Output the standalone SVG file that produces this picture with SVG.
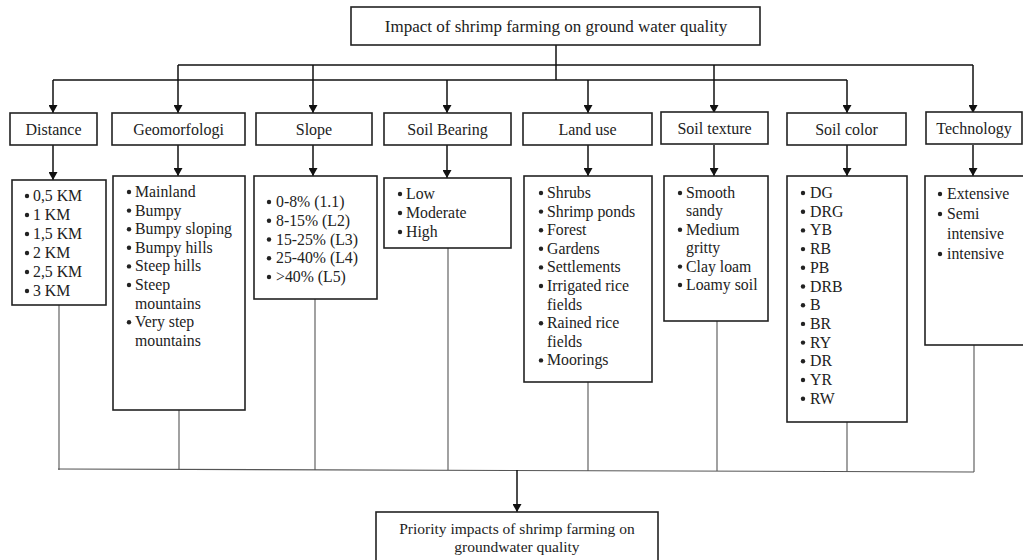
<svg xmlns="http://www.w3.org/2000/svg" width="1023" height="560" viewBox="0 0 1023 560">
<defs>
<marker id="ah" viewBox="0 0 8 9" refX="8" refY="4.5" markerWidth="8" markerHeight="9" orient="auto" markerUnits="userSpaceOnUse">
<path d="M0,0 L8,4.5 L0,9 Z" fill="#111"/>
</marker>
<style>
.box{fill:#fff;stroke:#222;stroke-width:1.6}
.t{font-family:"Liberation Serif","Times New Roman",serif;font-size:15.8px;fill:#222}
.l1{font-size:16px}
.tt{font-size:17px}
.pr{font-size:15.5px}
.h{text-anchor:middle}
.c{fill:none;stroke:#111;stroke-width:1.5}
.b{fill:none;stroke:#555;stroke-width:1.1}
.dot{fill:#222}
</style>
</defs>
<rect width="1023" height="560" fill="#fff"/>

<g id="connectors">
<path class="c" d="M556,45 V80"/>
<path class="c" d="M178,65 H973"/>
<path class="c" d="M53,80 H847"/>
<path class="c" d="M53,80 V113" marker-end="url(#ah)"/>
<path class="c" d="M178,65 V113" marker-end="url(#ah)"/>
<path class="c" d="M313,65 V113" marker-end="url(#ah)"/>
<path class="c" d="M447,80 V113" marker-end="url(#ah)"/>
<path class="c" d="M588,80 V113" marker-end="url(#ah)"/>
<path class="c" d="M714,65 V113" marker-end="url(#ah)"/>
<path class="c" d="M847,80 V113" marker-end="url(#ah)"/>
<path class="c" d="M973,65 V113" marker-end="url(#ah)"/>
<path class="c" d="M53,145 V180" marker-end="url(#ah)"/>
<path class="c" d="M178,145 V176" marker-end="url(#ah)"/>
<path class="c" d="M313,145 V176" marker-end="url(#ah)"/>
<path class="c" d="M447,145 V178" marker-end="url(#ah)"/>
<path class="c" d="M588,145 V176" marker-end="url(#ah)"/>
<path class="c" d="M714,145 V176" marker-end="url(#ah)"/>
<path class="c" d="M847,145 V176" marker-end="url(#ah)"/>
<path class="c" d="M973,145 V176" marker-end="url(#ah)"/>
<path class="b" d="M59,305 V470"/>
<path class="b" d="M179,410 V470"/>
<path class="b" d="M315,299 V470"/>
<path class="b" d="M448,248 V470"/>
<path class="b" d="M588,382 V471"/>
<path class="b" d="M717,321 V471"/>
<path class="b" d="M847,422 V472"/>
<path class="b" d="M974,345 V472"/>
<path class="b" d="M58,469 L974,472"/>
<path class="c" d="M517,470 V512" marker-end="url(#ah)"/>
</g>

<g id="top">
<rect class="box" x="351" y="7" width="409" height="38"/>
<text class="t tt h" x="556" y="32">Impact of shrimp farming on ground water quality</text>
</g>

<g id="distance">
<rect class="box" x="10" y="113" width="87" height="32"/>
<text class="t l1 h" x="53.5" y="134.5">Distance</text>
</g>
<g id="geomorfologi">
<rect class="box" x="112" y="113" width="133" height="32"/>
<text class="t l1 h" x="178.5" y="134.5">Geomorfologi</text>
</g>
<g id="slope">
<rect class="box" x="256" y="113" width="116" height="32"/>
<text class="t l1 h" x="314" y="134.5">Slope</text>
</g>
<g id="soil-bearing">
<rect class="box" x="384" y="113" width="127" height="32"/>
<text class="t l1 h" x="447.5" y="134.5">Soil Bearing</text>
</g>
<g id="land-use">
<rect class="box" x="523" y="113" width="129" height="32"/>
<text class="t l1 h" x="587.5" y="134.5">Land use</text>
</g>
<g id="soil-texture">
<rect class="box" x="661" y="112" width="107" height="32"/>
<text class="t l1 h" x="714.5" y="133.5">Soil texture</text>
</g>
<g id="soil-color">
<rect class="box" x="787" y="113" width="119" height="32"/>
<text class="t l1 h" x="846.5" y="134.5">Soil color</text>
</g>
<g id="technology">
<rect class="box" x="926" y="112" width="96" height="32"/>
<text class="t l1 h" x="974" y="133.5">Technology</text>
</g>

<g id="distance-list">
<rect class="box" x="12" y="180" width="94" height="125"/>
<g class="t">
<text x="33" y="201">0,5 KM</text>
<text x="33" y="220">1 KM</text>
<text x="33" y="239">1,5 KM</text>
<text x="33" y="258">2 KM</text>
<text x="33" y="277">2,5 KM</text>
<text x="33" y="296">3 KM</text>
</g>
<g class="dot">
<circle cx="27" cy="196" r="2.2"/><circle cx="27" cy="215" r="2.2"/><circle cx="27" cy="234" r="2.2"/><circle cx="27" cy="253" r="2.2"/><circle cx="27" cy="272" r="2.2"/><circle cx="27" cy="291" r="2.2"/>
</g>
</g>

<g id="geomorfologi-list">
<rect class="box" x="113" y="176" width="132" height="234"/>
<g class="t">
<text x="135" y="197">Mainland</text>
<text x="135" y="215.6">Bumpy</text>
<text x="135" y="234.2">Bumpy sloping</text>
<text x="135" y="252.8">Bumpy hills</text>
<text x="135" y="271.4">Steep hills</text>
<text x="135" y="290">Steep</text>
<text x="135" y="308.6">mountains</text>
<text x="135" y="327.2">Very step</text>
<text x="135" y="345.8">mountains</text>
</g>
<g class="dot">
<circle cx="129" cy="192" r="2.2"/><circle cx="129" cy="210.6" r="2.2"/><circle cx="129" cy="229.2" r="2.2"/><circle cx="129" cy="247.8" r="2.2"/><circle cx="129" cy="266.4" r="2.2"/><circle cx="129" cy="285" r="2.2"/><circle cx="129" cy="322.2" r="2.2"/>
</g>
</g>

<g id="slope-list">
<rect class="box" x="254" y="176" width="123" height="123"/>
<g class="t">
<text x="276" y="207">0-8% (1.1)</text>
<text x="276" y="225.75">8-15% (L2)</text>
<text x="276" y="244.5">15-25% (L3)</text>
<text x="276" y="263.25">25-40% (L4)</text>
<text x="276" y="282">&gt;40% (L5)</text>
</g>
<g class="dot">
<circle cx="269" cy="202" r="2.2"/><circle cx="269" cy="220.75" r="2.2"/><circle cx="269" cy="239.5" r="2.2"/><circle cx="269" cy="258.25" r="2.2"/><circle cx="269" cy="277" r="2.2"/>
</g>
</g>

<g id="soil-bearing-list">
<rect class="box" x="384" y="178" width="127" height="70"/>
<g class="t">
<text x="406" y="199">Low</text>
<text x="406" y="218">Moderate</text>
<text x="406" y="237">High</text>
</g>
<g class="dot">
<circle cx="400" cy="194" r="2.2"/><circle cx="400" cy="213" r="2.2"/><circle cx="400" cy="232" r="2.2"/>
</g>
</g>

<g id="land-use-list">
<rect class="box" x="524" y="176" width="128" height="206"/>
<g class="t">
<text x="547" y="198">Shrubs</text>
<text x="547" y="216.6">Shrimp ponds</text>
<text x="547" y="235.2">Forest</text>
<text x="547" y="253.8">Gardens</text>
<text x="547" y="272.4">Settlements</text>
<text x="547" y="291">Irrigated rice</text>
<text x="547" y="309.6">fields</text>
<text x="547" y="328.2">Rained rice</text>
<text x="547" y="346.8">fields</text>
<text x="547" y="365.4">Moorings</text>
</g>
<g class="dot">
<circle cx="541" cy="193" r="2.2"/><circle cx="541" cy="211.6" r="2.2"/><circle cx="541" cy="230.2" r="2.2"/><circle cx="541" cy="248.8" r="2.2"/><circle cx="541" cy="267.4" r="2.2"/><circle cx="541" cy="286" r="2.2"/><circle cx="541" cy="323.2" r="2.2"/><circle cx="541" cy="360.4" r="2.2"/>
</g>
</g>

<g id="soil-texture-list">
<rect class="box" x="664" y="176" width="104" height="145"/>
<g class="t">
<text x="686" y="198">Smooth</text>
<text x="686" y="216.4">sandy</text>
<text x="686" y="234.8">Medium</text>
<text x="686" y="253.2">gritty</text>
<text x="686" y="271.6">Clay loam</text>
<text x="686" y="290">Loamy soil</text>
</g>
<g class="dot">
<circle cx="680" cy="193" r="2.2"/><circle cx="680" cy="229.8" r="2.2"/><circle cx="680" cy="266.6" r="2.2"/><circle cx="680" cy="285" r="2.2"/>
</g>
</g>

<g id="soil-color-list">
<rect class="box" x="787" y="176" width="120" height="246"/>
<g class="t">
<text x="810" y="198">DG</text>
<text x="810" y="216.7">DRG</text>
<text x="810" y="235.4">YB</text>
<text x="810" y="254.1">RB</text>
<text x="810" y="272.8">PB</text>
<text x="810" y="291.5">DRB</text>
<text x="810" y="310.2">B</text>
<text x="810" y="328.9">BR</text>
<text x="810" y="347.6">RY</text>
<text x="810" y="366.3">DR</text>
<text x="810" y="385">YR</text>
<text x="810" y="403.7">RW</text>
</g>
<g class="dot">
<circle cx="803" cy="193" r="2.2"/><circle cx="803" cy="211.7" r="2.2"/><circle cx="803" cy="230.4" r="2.2"/><circle cx="803" cy="249.1" r="2.2"/><circle cx="803" cy="267.8" r="2.2"/><circle cx="803" cy="286.5" r="2.2"/><circle cx="803" cy="305.2" r="2.2"/><circle cx="803" cy="323.9" r="2.2"/><circle cx="803" cy="342.6" r="2.2"/><circle cx="803" cy="361.3" r="2.2"/><circle cx="803" cy="380" r="2.2"/><circle cx="803" cy="398.7" r="2.2"/>
</g>
</g>

<g id="technology-list">
<rect class="box" x="925" y="176" width="102" height="169"/>
<g class="t">
<text x="947" y="199">Extensive</text>
<text x="947" y="219">Semi</text>
<text x="947" y="239">intensive</text>
<text x="947" y="259">intensive</text>
</g>
<g class="dot">
<circle cx="940" cy="194" r="2.2"/><circle cx="940" cy="214" r="2.2"/><circle cx="940" cy="254" r="2.2"/>
</g>
</g>

<g id="priority">
<rect class="box" x="376" y="512" width="282" height="60"/>
<text class="t pr h" x="517" y="534">Priority impacts of shrimp farming on</text>
<text class="t pr h" x="517" y="552">groundwater quality</text>
</g>
</svg>
